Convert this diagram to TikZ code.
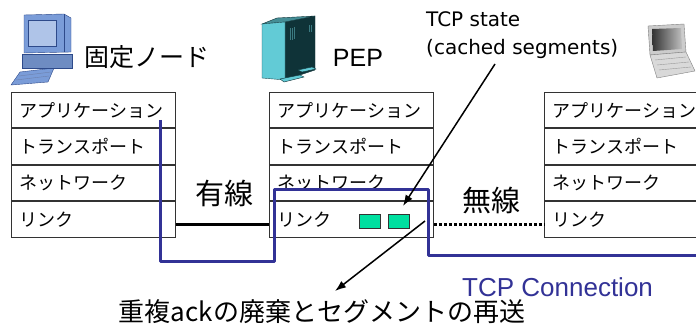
\documentclass[tikz,border=0pt]{standalone}
\usepackage{fontspec}
\newfontfamily\jp{Noto Sans CJK JP}
\newfontfamily\arial{Liberation Sans}
\newfontfamily\dejavu{DejaVu Sans}
\usetikzlibrary{positioning,arrows.meta}
\definecolor{tcpblue}{RGB}{50,50,150}
\definecolor{segfill}{RGB}{0,224,160}
\definecolor{pcblue}{RGB}{122,156,216}
\definecolor{pcdark}{RGB}{46,74,138}
\definecolor{srvfront}{RGB}{98,203,214}
\definecolor{srvside}{RGB}{15,51,56}

\begin{document}
\begin{tikzpicture}[x=1pt,y=-1pt]
    \tikzstyle{layer}=[draw=black!80,line width=0.9pt,text width=148pt,align=left,
      inner xsep=8pt,inner ysep=2pt,minimum height=35.5pt,font=\jp\fontsize{18}{20}\selectfont]
    \tikzstyle{seg}=[draw=black!80,line width=0.9pt,fill=segfill,minimum width=21pt,minimum height=14pt,inner sep=0pt]
    \tikzstyle{tcp}=[draw=tcpblue,line width=3pt,line join=round]
    \tikzstyle{pointer}=[draw=black,line width=1.5pt,-{Latex[length=11pt,width=8pt]}]
    \tikzstyle{big}=[font=\jp\fontsize{29}{31}\selectfont]
    \useasboundingbox (0,0) rectangle (696,328);
    \clip (0,0) rectangle (696,328);

    % desktop
    \draw[fill=pcblue,draw=pcdark] (11,85) -- (20,72) -- (54,68) -- (48,82) -- cycle;
    \draw[pcdark!70] (16,80) -- (49,76) (19,76) -- (51,72);
    \draw[fill=pcblue!90!black,draw=pcdark] (22,54) rectangle (72,68);
    \draw[fill=pcblue,draw=pcdark] (24,15) -- (64,14) -- (71,18) -- (71,52) -- (24,53) -- cycle;
    \draw[fill=pcblue!60!white,draw=pcdark] (28,20) rectangle (56,46);
    \draw[pcdark] (64,14) -- (64,52);
    % server
    \draw[fill=srvside,draw=srvside] (285,22) -- (315,16) -- (315,70) -- (285,80) -- cycle;
    \draw[fill=srvfront!70!black,draw=srvside] (262,24) -- (277,18) -- (315,16) -- (285,22) -- cycle;
    \draw[fill=srvfront,draw=srvside!80!srvfront] (262,24) -- (285,22) -- (285,80) -- (262,78) -- cycle;
    \draw[srvfront!60!black,line width=1pt] (290,28) -- (290,40) (292,28) -- (292,40) (294,27) -- (294,39)
      (309,25) -- (309,32) (311,25) -- (311,32);
    \draw[fill=srvfront,draw=srvside] (280,79) -- (300,75) -- (304,77) -- (284,82) -- cycle;
    \draw[fill=srvfront,draw=srvside] (298,70) -- (312,67) -- (316,69) -- (302,72) -- cycle;
    % laptop
    \draw[fill=black!20,draw=black!50] (648,26) -- (684,24) -- (686,52) -- (650,55) -- cycle;
    \shade[left color=black!80,right color=black!25] (652,29) -- (681,28) -- (682,49) -- (653,51) -- cycle;
    \draw[fill=black!15,draw=black!50] (650,55) -- (686,52) -- (695,71) -- (657,78) -- cycle;
    \draw[black!40] (655,60) -- (686,57) (657,65) -- (689,62) (659,70) -- (691,67);

    \node[font=\jp\fontsize{25}{28}\selectfont] (fixed) at (147,57) {固定ノード};
    \node[font=\arial\fontsize{25}{28}\selectfont] (pep) at (358,58) {PEP};
    \node[anchor=base west,inner sep=0pt,font=\dejavu\fontsize{20}{22}\selectfont] (state) at (426,27) {TCP state};
    \node[anchor=base west,inner sep=0pt,font=\dejavu\fontsize{20}{22}\selectfont] (cached) at (426,55) {(cached segments)};

    \node[layer,anchor=north west] (fa) at (11,92) {アプリケーション};
    \node[layer,below=0pt of fa] (ft) {トランスポート};
    \node[layer,below=0pt of ft] (fn) {ネットワーク};
    \node[layer,below=0pt of fn] (fl) {リンク};

    \node[layer,anchor=north west] (pa) at (269,92) {アプリケーション};
    \node[layer,below=0pt of pa] (pt) {トランスポート};
    \node[layer,below=0pt of pt] (pn) {ネットワーク};
    \node[layer,below=0pt of pn] (pl) {リンク};

    \node[layer,anchor=north west] (ma) at (544,92) {アプリケーション};
    \node[layer,below=0pt of ma] (mt) {トランスポート};
    \node[layer,below=0pt of mt] (mn) {ネットワーク};
    \node[layer,below=0pt of mn] (ml) {リンク};

    \node[seg] (s1) at (370,221) {};
    \node[seg,right=7pt of s1] (s2) {};

    \draw[line width=2.5pt] ([yshift=-5pt]fl.east) -- ([yshift=-5pt]pl.west);
    \draw[line width=3pt,dash pattern=on 3pt off 2pt] ([yshift=-5pt]pl.east) -- ([yshift=-5pt]ml.west);
    \node[big] (wired) at (224,193) {有線};
    \node[big] (wireless) at (491,200) {無線};

    \draw[tcp] (160,120) -- (160,262) -- (274,262) -- (274,190) -- (428,190) -- (428,256) -- (700,256);
    \node[anchor=west,inner sep=0pt,text=tcpblue,font=\arial\fontsize{26}{28}\selectfont] (conn) at (462,287) {TCP Connection};

    \node[font=\jp\fontsize{26}{28}\selectfont] (resend) at (322,312) {重複ackの廃棄とセグメントの再送};

    \coordinate (statefoot) at (495,64);
    \coordinate (segtip) at (403,206);
    \coordinate (segtail) at (425,221);
    \coordinate (resendtip) at (335,291);
    \draw[pointer] (statefoot) -- (segtip);
    \draw[pointer] (segtail) -- (resendtip);
\end{tikzpicture}
\end{document}
